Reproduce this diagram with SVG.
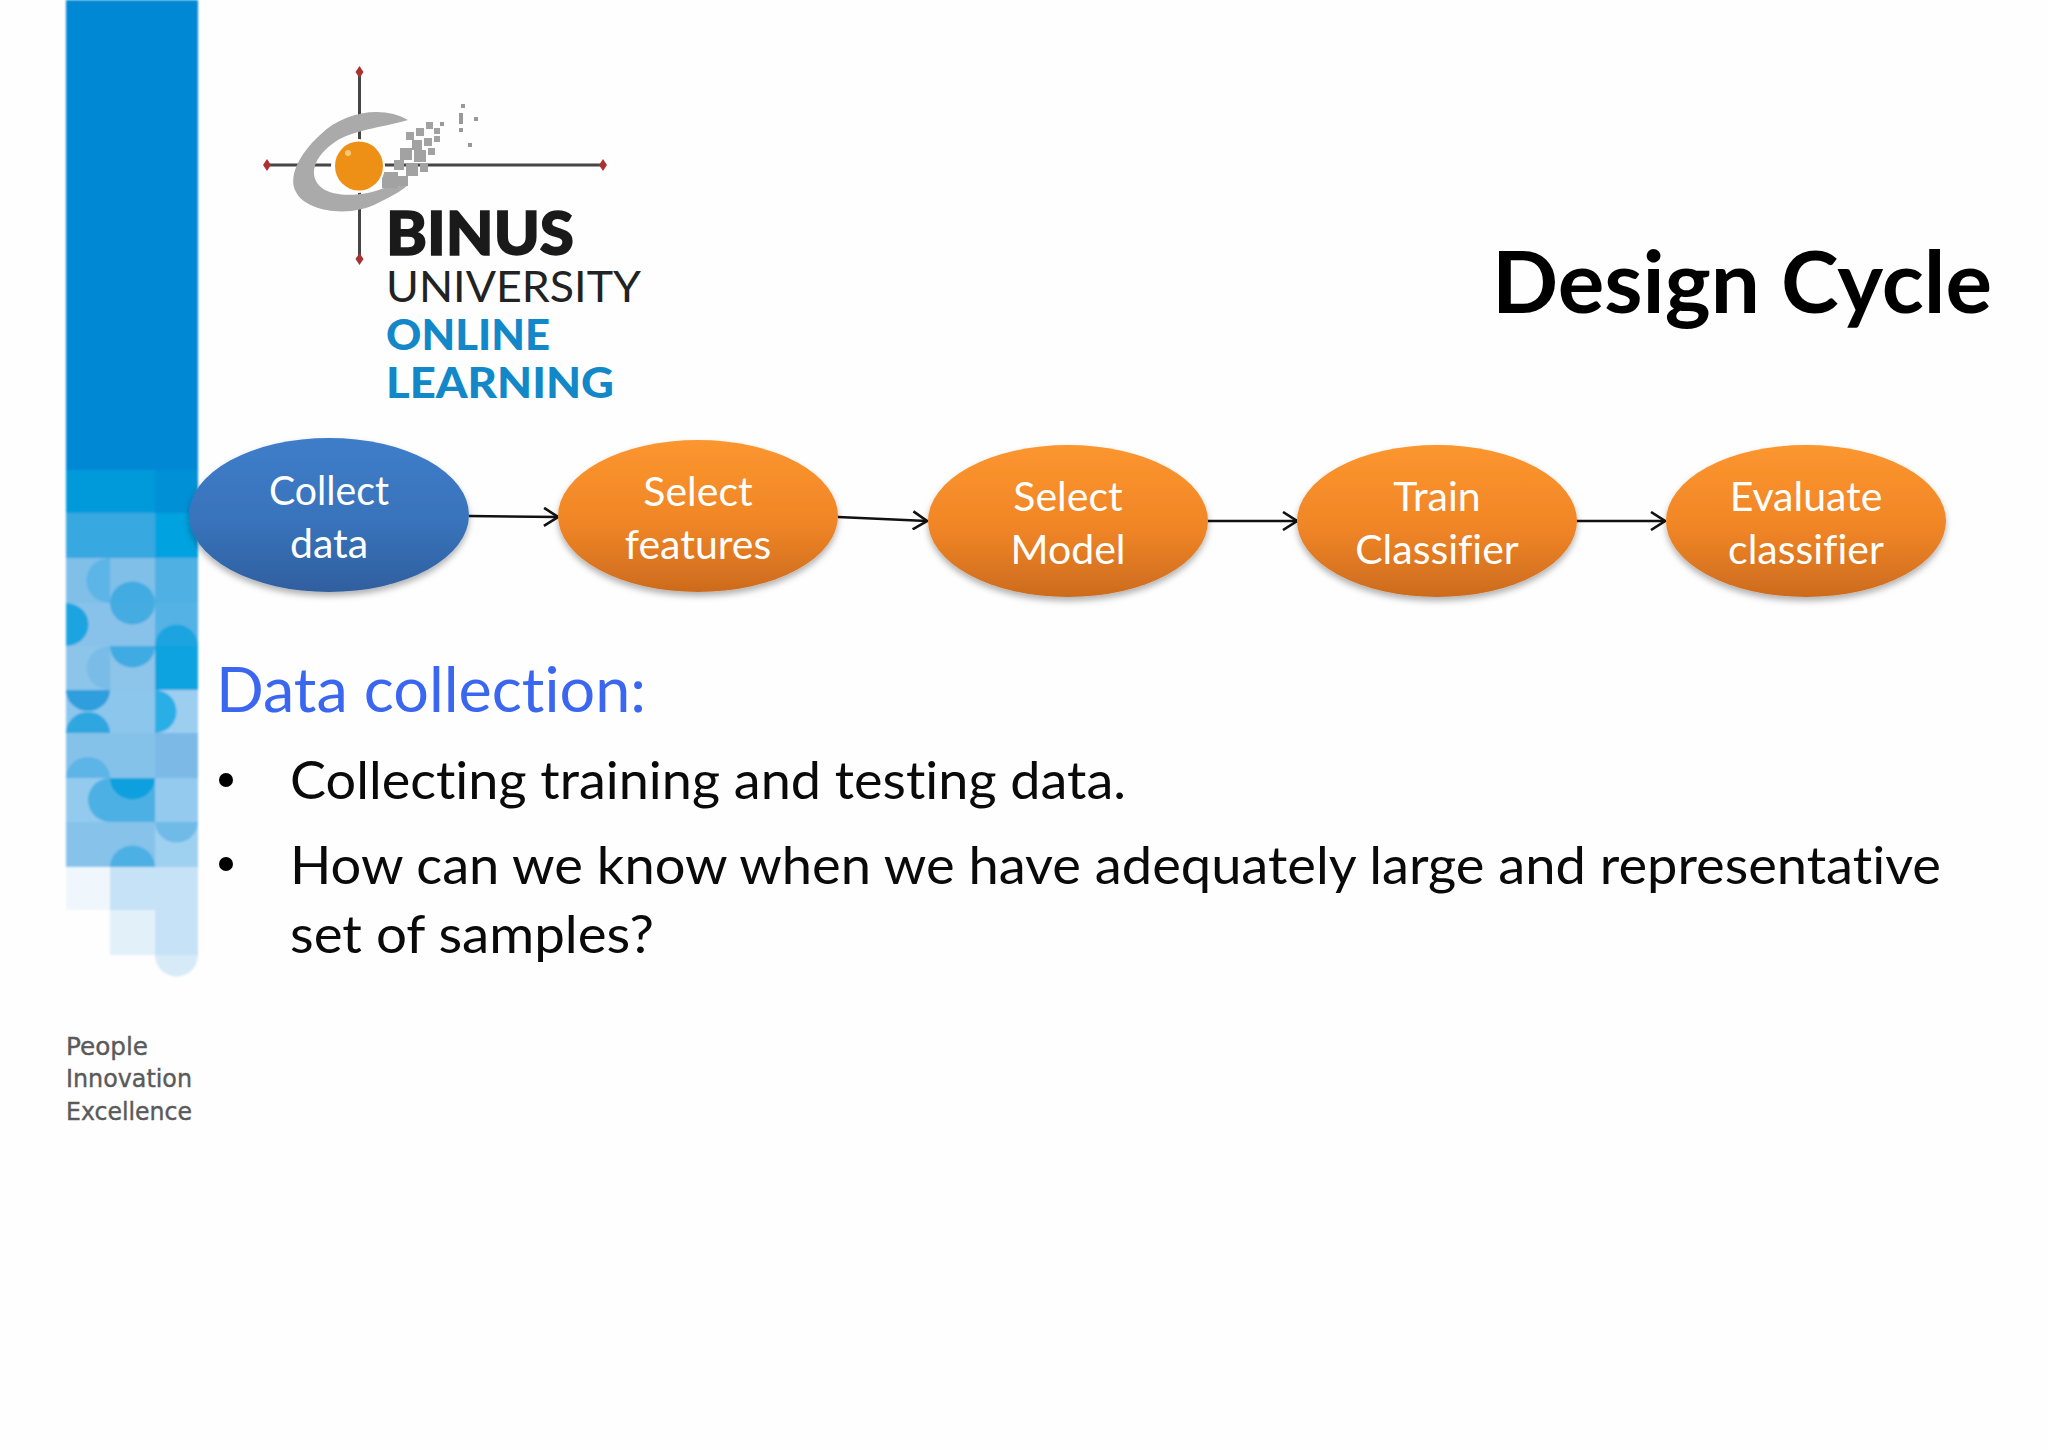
<svg xmlns="http://www.w3.org/2000/svg" width="2048" height="1450" viewBox="0 0 2048 1450">
<style>
text{font-variant-ligatures:none}
.n{font-family:"Lato","Liberation Sans",sans-serif;font-size:41px;fill:#fff;text-anchor:middle}
.b{font-family:"Lato","Liberation Sans",sans-serif;font-size:53px;fill:#0a0a0a}
.l{font-family:"Lato","Liberation Sans",sans-serif;font-weight:900;fill:#1288c8}
.p{font-family:"DejaVu Sans",sans-serif;font-size:24px;fill:#5a5a5a;stroke:#5a5a5a;stroke-width:.4}
.c{fill:none;stroke:#111;stroke-width:2.6;marker-end:url(#a)}
</style>
<defs>
<linearGradient id="go" x1="0" y1="0" x2="0" y2="1"><stop offset="0" stop-color="#fc962f"/><stop offset=".55" stop-color="#f08526"/><stop offset="1" stop-color="#cc6b1e"/></linearGradient>
<linearGradient id="gb" x1="0" y1="0" x2="0" y2="1"><stop offset="0" stop-color="#3f7dc9"/><stop offset=".55" stop-color="#3873bb"/><stop offset="1" stop-color="#2f5f9f"/></linearGradient>
<filter id="sh" x="-10%" y="-10%" width="120%" height="125%"><feDropShadow dx="0" dy="4" stdDeviation="3" flood-color="#000" flood-opacity=".3"/></filter>
<filter id="bl"><feGaussianBlur stdDeviation="1.2"/></filter>
<filter id="bs"><feGaussianBlur stdDeviation=".6"/></filter>
<marker id="a" viewBox="0 0 18 20" refX="17" refY="10" markerWidth="18" markerHeight="20" markerUnits="userSpaceOnUse" orient="auto"><path d="M3 1L17 10L3 19" fill="none" stroke="#111" stroke-width="2.6"/></marker>
</defs>
<rect width="2048" height="1450" fill="#fefefe"/>
<g id="sidebar" filter="url(#bl)">
<rect x="66" y="0" width="132" height="470" fill="#0088d4"/>
<rect x="66" y="470" width="89" height="43" fill="#009ada"/><rect x="155" y="470" width="43" height="43" fill="#0090d6"/>
<rect x="66" y="513" width="89" height="45" fill="#38a8e0"/><rect x="155" y="513" width="43" height="45" fill="#00a2e0"/>
<rect x="66" y="558" width="89" height="45" fill="#7fbfe8"/><rect x="155" y="558" width="43" height="45" fill="#4fb0e4"/>
<rect x="66" y="603" width="132" height="43" fill="#88c2ea"/><rect x="155" y="603" width="43" height="43" fill="#55b2e5"/>
<rect x="66" y="646" width="132" height="44" fill="#8cc4ea"/><rect x="155" y="646" width="43" height="44" fill="#0ea3e0"/>
<rect x="66" y="690" width="132" height="43" fill="#8cc6ec"/><rect x="155" y="690" width="43" height="43" fill="#9ccef0"/>
<rect x="66" y="733" width="132" height="45" fill="#85c2ea"/><rect x="155" y="733" width="43" height="45" fill="#7cb9e6"/>
<rect x="66" y="778" width="132" height="44" fill="#93caee"/>
<rect x="66" y="822" width="132" height="45" fill="#86c2ea"/><rect x="155" y="822" width="43" height="45" fill="#9ed0f0"/>
<rect x="66" y="867" width="44" height="43" fill="#f0f7fc"/><rect x="110" y="867" width="88" height="43" fill="#c6e2f6"/>
<rect x="110" y="910" width="88" height="45" fill="#e2f0fa"/><rect x="155" y="910" width="43" height="45" fill="#c6e2f6"/>
<path d="M155 955h43v0a21 21 0 0 1-43 0z" fill="#d6eaf8"/>
<path d="M110 558a22 21 0 0 0 0 45z" fill="#5cb5e6"/>
<path d="M110 603a22 21 0 0 1 45 0a22 21 0 0 1-45 0z" fill="#33a6df" opacity=".8"/>
<path d="M66 603a22 21 0 0 1 0 43z" fill="#1ea4e0"/>
<path d="M155 646a21 21 0 0 1 43 0z" fill="#1ea4e0"/>
<path d="M110 646h45a22 21 0 0 1-45 0z" fill="#3fabe2"/>
<path d="M110 646a22 21 0 0 0 0 44z" fill="#79bce8"/>
<path d="M66 690h44a22 21 0 0 1-44 0z" fill="#2e9fdc"/>
<path d="M155 690a21 21 0 0 1 0 43z" fill="#2aaee6"/>
<path d="M66 733a22 21 0 0 1 44 0z" fill="#2ea6e0"/>
<path d="M66 778a22 21 0 0 1 44 0z" fill="#5db4e6"/>
<path d="M110 778a22 22 0 0 0 0 44h45v-44z" fill="#4db0e4"/>
<path d="M110 778h45a22 21 0 0 1-45 0z" fill="#0ea0de"/>
<path d="M110 867a22 21 0 0 1 45 0z" fill="#4eb0e4"/>
<path d="M155 822h43a21 20 0 0 1-43 0z" fill="#6fbae8"/>
</g>
<g id="logo">
<g filter="url(#bs)">
<path d="M359.500 72V259M267 165H603" stroke="#444" stroke-width="3" fill="none"/>
<path d="M359.500 66l4 6-4 6-4-6zM359.500 253l4 6-4 6-4-6zM267 159l4 6-4 6-4-6zM603 159l4 6-4 6-4-6z" fill="#a33"/>
<path d="M408 120C385 106 345 110 320 135C298 155 288 178 296 192C306 212 350 218 378 203C392 196 400 192 408 185L384 188C366 196 335 198 322 188C307 176 314 156 335 142C352 130 380 128 408 120Z" fill="#aaa"/>
<path d="M406 132h8v8h-8zM416 128h8v8h-8zM426 122h7v7h-7zM434 128h6v6h-6zM412 140h10v10h-10zM424 138h8v8h-8zM434 136h6v6h-6zM400 148h12v12h-12zM414 150h12v12h-12zM428 148h7v7h-7zM394 160h10v10h-10zM406 164h12v12h-12zM382 172h16v16h-16zM420 164h8v8h-8zM398 176h10v10h-10z" fill="#a2a2a2"/>
<path d="M461 104h4v4h-4zM459 113h4v11h-4zM474 117h4v4h-4zM459 128h4v4h-4zM468 143h4v4h-4zM440 122h4v4h-4z" fill="#999"/>
<circle cx="358" cy="166" r="27" fill="#fff"/>
<ellipse cx="359" cy="166" rx="24" ry="24.500" fill="#ee8f12"/>
<circle cx="348" cy="153" r="3" fill="#f8c878"/>
</g>
<text x="386" y="255" font-family="Lato,'Liberation Sans',sans-serif" font-weight="900" font-size="60" fill="#1a1a1a" textLength="188" lengthAdjust="spacingAndGlyphs" stroke="#1a1a1a" stroke-width="1.500">BINUS</text>
<text x="386" y="302" font-family="Lato,'Liberation Sans',sans-serif" font-size="42" fill="#222" textLength="255" lengthAdjust="spacingAndGlyphs">UNIVERSITY</text>
<text class="l" x="386" y="350" font-size="42" textLength="164" lengthAdjust="spacingAndGlyphs">ONLINE</text>
<text class="l" x="386" y="398" font-size="42" textLength="228" lengthAdjust="spacingAndGlyphs">LEARNING</text>
</g>
<g id="tagline"><text class="p" x="66" y="1055" textLength="82" lengthAdjust="spacingAndGlyphs">People</text><text class="p" x="66" y="1087" textLength="126" lengthAdjust="spacingAndGlyphs">Innovation</text><text class="p" x="66" y="1120" textLength="126" lengthAdjust="spacingAndGlyphs">Excellence</text></g>
<g id="title"><text x="1492" y="313" font-family="Lato,'Liberation Sans',sans-serif" font-weight="700" font-size="87" fill="#000" textLength="500" lengthAdjust="spacingAndGlyphs">Design Cycle</text></g>
<g id="connectors">
<path class="c" d="M469 516L558 517"/><path class="c" d="M838 517L927 521"/><path class="c" d="M1208 521H1297"/><path class="c" d="M1576 521H1665"/>
</g>
<g id="n1"><ellipse cx="329" cy="515" rx="140" ry="77" fill="url(#gb)" filter="url(#sh)"/><text class="n" x="329" y="505" textLength="120" lengthAdjust="spacingAndGlyphs">Collect</text><text class="n" x="329" y="558">data</text></g>
<g id="n2"><ellipse cx="698" cy="516" rx="140" ry="76" fill="url(#go)" filter="url(#sh)"/><text class="n" x="698" y="506">Select</text><text class="n" x="698" y="559">features</text></g>
<g id="n3"><ellipse cx="1068" cy="521" rx="140" ry="76" fill="url(#go)" filter="url(#sh)"/><text class="n" x="1068" y="511">Select</text><text class="n" x="1068" y="564">Model</text></g>
<g id="n4"><ellipse cx="1437" cy="521" rx="140" ry="76" fill="url(#go)" filter="url(#sh)"/><text class="n" x="1437" y="511">Train</text><text class="n" x="1437" y="564">Classifier</text></g>
<g id="n5"><ellipse cx="1806" cy="521" rx="140" ry="76" fill="url(#go)" filter="url(#sh)"/><text class="n" x="1806" y="511">Evaluate</text><text class="n" x="1806" y="564">classifier</text></g>
<g id="body">
<text x="216" y="712" font-family="Lato,'Liberation Sans',sans-serif" font-size="62" fill="#3a66f0" textLength="430" lengthAdjust="spacingAndGlyphs">Data collection:</text>
<circle cx="226" cy="780" r="7" fill="#000"/><text class="b" x="290" y="799" textLength="836" lengthAdjust="spacingAndGlyphs">Collecting training and testing data.</text>
<circle cx="226" cy="864" r="7" fill="#000"/><text class="b" x="290" y="884" textLength="1651" lengthAdjust="spacingAndGlyphs">How can we know when we have adequately large and representative</text>
<text class="b" x="290" y="953" textLength="364" lengthAdjust="spacingAndGlyphs">set of samples?</text>
</g>
</svg>
